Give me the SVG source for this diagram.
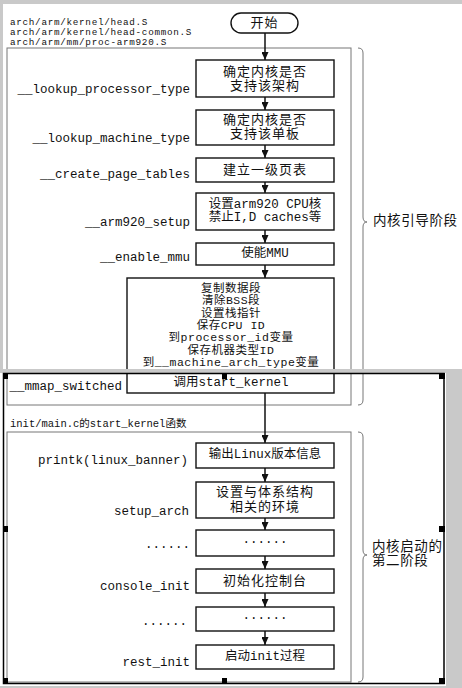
<svg xmlns="http://www.w3.org/2000/svg" width="462" height="688" viewBox="0 0 462 688">
<style>
  .mono { font-family: "Liberation Mono", "Noto Sans CJK SC", monospace; fill: #111; }
  .lbl { font-size: 12.5px; text-anchor: end; dominant-baseline: central; }
  .path { font-size: 10.5px; }
  .hdr { font-size: 9.3px; letter-spacing: 0.7px; }
  .cjk { font-family: "Liberation Mono", "Noto Sans CJK SC", monospace; font-size: 13px; letter-spacing: 1px; fill: #111; text-anchor: middle; dominant-baseline: central; }
  .mix { font-family: "Liberation Mono", "Noto Sans CJK SC", monospace; font-size: 12.5px; fill: #111; text-anchor: middle; dominant-baseline: central; }
  .small { font-size: 11.5px; letter-spacing: 0.5px; }
  .box { fill: #fff; stroke: #111; stroke-width: 1.4; }
  .stage { fill: none; stroke: #777; stroke-width: 1; }
  .brace { fill: none; stroke: #777; stroke-width: 1; }
  .arrow { stroke: #111; stroke-width: 1.5; fill: none; marker-end: url(#ah); }
  .gray { fill: #c9c9c9; }
  .side { font-family: "Liberation Mono", "Noto Sans CJK SC", monospace; font-size: 13.5px; letter-spacing: 0.6px; fill: #111; dominant-baseline: central; }
  .handle { fill: #000; }
</style>
<defs>
  <marker id="ah" markerWidth="8" markerHeight="7" refX="8" refY="3.5" orient="auto" markerUnits="userSpaceOnUse">
    <path d="M0,0 L8,3.5 L0,7 Z" fill="#111"/>
  </marker>
</defs>
<rect x="0" y="0" width="462" height="688" fill="#fff"/>

<!-- page frame greys -->
<rect class="gray" x="0" y="0" width="462" height="4"/>
<rect class="gray" x="0" y="0" width="3" height="370"/>

<!-- header file paths -->
<g id="paths">
  <text class="mono hdr" x="10" y="25">arch/arm/kernel/head.S<tspan x="10" dy="10">arch/arm/kernel/head-common.S</tspan><tspan x="10" dy="10">arch/arm/mm/proc-arm920.S</tspan></text>
</g>

<!-- stage containers -->
<g id="stage1">
  <rect class="stage" x="7" y="48" width="344" height="357"/>
  <path class="brace" d="M358,48 Q363,48 363,53 L363,217 Q363,222 367,222 Q363,222 363,227 L363,400 Q363,405 358,405"/>
  <text class="side" x="373" y="221">内核引导阶段</text>
</g>
<g id="stage2">
  <text class="mono path" x="10" y="427">init/main.c的start_kernel函数</text>
  <rect class="stage" x="7" y="432" width="344" height="250"/>
  <path class="brace" d="M358,432 Q363,432 363,437 L363,550 Q363,555 367,555 Q363,555 363,560 L363,677 Q363,682 358,682"/>
  <text class="side" x="372" y="547">内核启动的<tspan x="372" dy="14">第二阶段</tspan></text>
</g>

<!-- connectors -->
<g id="connectors">
  <line class="arrow" x1="265" y1="33" x2="265" y2="60"/>
  <line class="arrow" x1="265" y1="97" x2="265" y2="110"/>
  <line class="arrow" x1="265" y1="145" x2="265" y2="158"/>
  <line class="arrow" x1="265" y1="182" x2="265" y2="193"/>
  <line class="arrow" x1="265" y1="230" x2="265" y2="243"/>
  <line class="arrow" x1="265" y1="265" x2="265" y2="278"/>
  <line class="arrow" x1="265" y1="393" x2="265" y2="443"/>
  <line class="arrow" x1="265" y1="468" x2="265" y2="482"/>
  <line class="arrow" x1="265" y1="518" x2="265" y2="530"/>
  <line class="arrow" x1="265" y1="556" x2="265" y2="569"/>
  <line class="arrow" x1="265" y1="593" x2="265" y2="607"/>
  <line class="arrow" x1="265" y1="631" x2="265" y2="645"/>
</g>

<!-- nodes -->
<g id="start">
  <rect class="box" x="231" y="13" width="67" height="20" rx="10" ry="10"/>
  <text class="cjk" x="264.5" y="23">开始</text>
</g>
<g id="n1">
  <rect class="box" x="196" y="60" width="138" height="37"/>
  <text class="cjk" x="265" y="72">确定内核是否<tspan x="265" dy="14">支持该架构</tspan></text>
  <text class="mono lbl" x="190" y="90">__lookup_processor_type</text>
</g>
<g id="n2">
  <rect class="box" x="196" y="110" width="138" height="35"/>
  <text class="cjk" x="265" y="120">确定内核是否<tspan x="265" dy="14">支持该单板</tspan></text>
  <text class="mono lbl" x="190" y="139">__lookup_machine_type</text>
</g>
<g id="n3">
  <rect class="box" x="196" y="158" width="138" height="24"/>
  <text class="cjk" x="265" y="170">建立一级页表</text>
  <text class="mono lbl" x="190" y="175">__create_page_tables</text>
</g>
<g id="n4">
  <rect class="box" x="196" y="193" width="138" height="37"/>
  <text class="mix" x="265" y="205">设置arm920 CPU核<tspan x="265" dy="13">禁止I,D caches等</tspan></text>
  <text class="mono lbl" x="190" y="223">__arm920_setup</text>
</g>
<g id="n5">
  <rect class="box" x="196" y="243" width="138" height="22"/>
  <text class="mix" x="265" y="254">使能MMU</text>
  <text class="mono lbl" x="190" y="258">__enable_mmu</text>
</g>
<g id="n6">
  <rect class="box" x="127" y="278" width="207" height="95"/>
  <text class="mix small" x="231" y="288">复制数据段<tspan x="231" dy="12.3">清除BSS段</tspan><tspan x="231" dy="12.3">设置栈指针</tspan><tspan x="231" dy="12.3">保存CPU ID</tspan><tspan x="231" dy="12.3">到processor_id变量</tspan><tspan x="231" dy="12.3">保存机器类型ID</tspan><tspan x="231" dy="12.3">到__machine_arch_type变量</tspan></text>
</g>
<g id="n7">
  <rect class="box" x="127" y="373" width="207" height="20"/>
  <text class="mix" x="231" y="383">调用start_kernel</text>
  <text class="mono lbl" x="122" y="387">__mmap_switched</text>
</g>
<g id="m1">
  <rect class="box" x="196" y="443" width="138" height="25"/>
  <text class="mix" x="265" y="455">输出Linux版本信息</text>
  <text class="mono lbl" x="188" y="461">printk(linux_banner)</text>
</g>
<g id="m2">
  <rect class="box" x="196" y="482" width="138" height="36"/>
  <text class="cjk" x="265" y="492">设置与体系结构<tspan x="265" dy="15">相关的环境</tspan></text>
  <text class="mono lbl" x="189" y="512">setup_arch</text>
</g>
<g id="m3">
  <rect class="box" x="196" y="530" width="138" height="26"/>
  <text class="mix" x="265" y="540">......</text>
  <text class="mono lbl" x="190" y="545">......</text>
</g>
<g id="m4">
  <rect class="box" x="196" y="569" width="138" height="24"/>
  <text class="cjk" x="265" y="581">初始化控制台</text>
  <text class="mono lbl" x="190" y="587">console_init</text>
</g>
<g id="m5">
  <rect class="box" x="196" y="607" width="138" height="24"/>
  <text class="mix" x="265" y="616">......</text>
  <text class="mono lbl" x="187" y="622">......</text>
</g>
<g id="m6">
  <rect class="box" x="196" y="645" width="138" height="24"/>
  <text class="mix" x="265" y="657">启动init过程</text>
  <text class="mono lbl" x="190" y="663">rest_init</text>
</g>

<!-- screenshot overlay: band, right strip, selection frame -->
<rect class="gray" x="0" y="369" width="462" height="4"/>
<rect class="gray" x="446" y="373" width="16" height="315"/>
<rect class="gray" x="0" y="686" width="462" height="2"/>
<rect x="3.5" y="373.5" width="440.5" height="310" fill="none" stroke="#000" stroke-width="1.5"/>
<rect class="handle" x="3" y="373" width="5" height="6"/>
<rect class="handle" x="222" y="374" width="5" height="5"/>
<rect class="handle" x="439" y="373" width="6" height="6"/>
<rect class="handle" x="3" y="526" width="5" height="6"/>
<rect class="handle" x="439" y="526" width="6" height="6"/>
<rect class="handle" x="3" y="678" width="5" height="6"/>
<rect class="handle" x="222" y="678" width="5" height="6"/>
<rect class="handle" x="439" y="678" width="6" height="6"/>
</svg>
